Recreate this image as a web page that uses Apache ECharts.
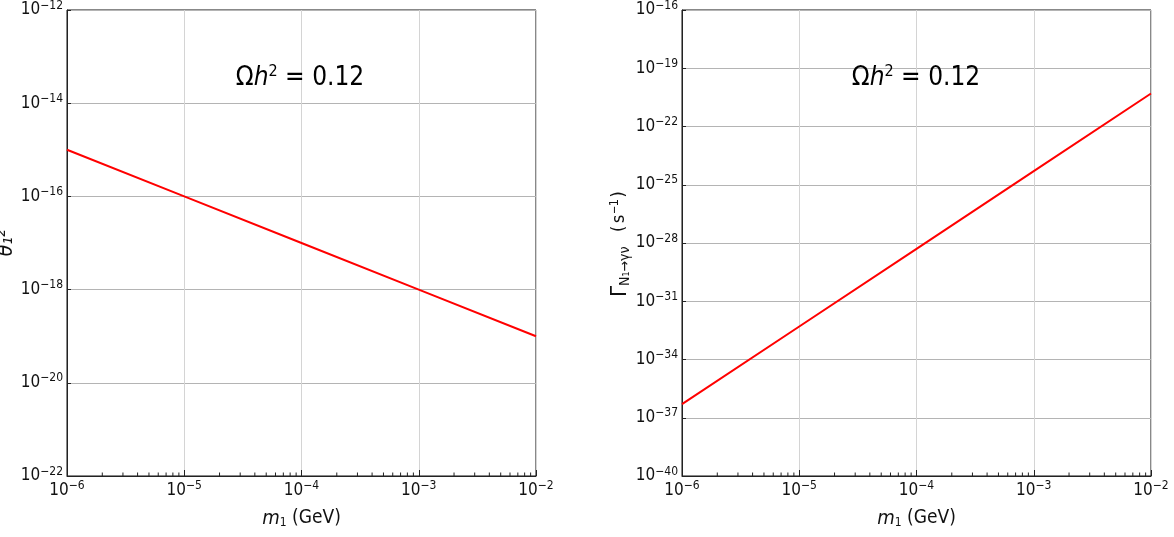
<!DOCTYPE html>
<html>
<head>
<meta charset="utf-8">
<script src="https://cdn.jsdelivr.net/npm/echarts@6/dist/echarts.min.js"></script>
<style>
html,body{margin:0;padding:0;background:#fff;}
#c{width:1174px;height:537px;}
</style>
</head>
<body>
<div id="c"></div>
<script>
// ---- data ----
const masses = [1e-6, 1e-5, 1e-4, 1e-3, 1e-2];                    // m1 (GeV)
const theta2 = [1e-15, 1e-16, 1e-17, 1e-18, 1e-19];                // θ1^2
const gammaRate = [5.0e-37, 5.0e-33, 5.0e-29, 5.0e-25, 5.0e-21];   // Γ (s^-1)
const xRange = [1e-6, 1e-2];
const yLeftRange = [1e-22, 1e-12];
const yRightRange = [1e-40, 1e-16];
const yLeftStep = 2;   // decades between y ticks (left)
const yRightStep = 3;  // decades between y ticks (right)
const titleValue = '0.12';

const FONT = "'DejaVu Sans Condensed','Liberation Sans Narrow','DejaVu Sans',sans-serif";
const L10 = Math.log10;   // axes are drawn on decades (log10 scale)

// minor tick positions (2..9 per decade) — axis decoration
const minorTicks = [];
for (let d = -6; d < -2; d++) for (let k = 2; k <= 9; k++) minorTicks.push(k * Math.pow(10, d));

function expText(e) { e = Math.round(e); return '{b|10}{e|' + (e < 0 ? '\u2212' + (-e) : e) + '}'; }
const labelRich = {
  b: {fontSize: 17, fontFamily: FONT, color: '#111'},
  e: {fontSize: 12, fontFamily: FONT, color: '#111', padding: [0, 0, 9, 0]}
};

function xAxisDef(idx) {
  return {
    type: 'value', gridIndex: idx, min: L10(xRange[0]), max: L10(xRange[1]), interval: 1,
    name: '{i|m}{s|1}{n| (GeV)}', nameLocation: 'middle', nameGap: 32,
    nameTextStyle: {rich: {
      i: {fontSize: 20, fontStyle: 'italic', fontFamily: FONT, color: '#111'},
      s: {fontSize: 12, fontFamily: FONT, color: '#111', padding: [9, 0, 0, 0]},
      n: {fontSize: 19, fontFamily: FONT, color: '#111'}
    }},
    axisLine: {show: true, onZero: false, lineStyle: {color: '#222', width: 1}},
    axisTick: {show: true, inside: true, length: 6, lineStyle: {color: '#222'}},
    axisLabel: {formatter: expText, rich: labelRich, margin: 4, showMinLabel: true, showMaxLabel: true},
    splitLine: {show: true, lineStyle: {color: '#d4d4d4', width: 1}}
  };
}
function yAxisDef(idx, range, step, name, rich, gap) {
  return {
    type: 'value', gridIndex: idx, min: L10(range[0]), max: L10(range[1]), interval: step,
    name: name, nameLocation: 'middle', nameGap: gap,
    nameTextStyle: {rich: rich},
    axisLine: {show: true, onZero: false, lineStyle: {color: '#222', width: 1}},
    axisTick: {show: true, inside: true, length: 4, lineStyle: {color: '#222'}},
    axisLabel: {formatter: expText, rich: labelRich, margin: 4, showMinLabel: true, showMaxLabel: true},
    splitLine: {show: true, lineStyle: {color: '#b4b4b4', width: 1}}
  };
}
function minorSeries(idx, yMin) {
  return {
    type: 'custom', xAxisIndex: idx, yAxisIndex: idx, silent: true, z: 5, clip: false,
    data: minorTicks.map(v => [L10(v), L10(yMin)]),
    renderItem: function (params, api) {
      const p = api.coord([api.value(0), api.value(1)]);
      return {type: 'line', shape: {x1: p[0], y1: p[1], x2: p[0], y2: p[1] - 3.5},
              style: {stroke: '#222', lineWidth: 1}};
    }
  };
}
const titleRich = {
  o: {fontSize: 26, fontFamily: FONT, color: '#000'},
  h: {fontSize: 26, fontFamily: FONT, fontStyle: 'italic', color: '#000'},
  s: {fontSize: 16, fontFamily: FONT, color: '#000', padding: [0, 0, 12, 0]},
  t: {fontSize: 26, fontFamily: FONT, color: '#000'}
};
function titleGraphic(x, y) {
  return {type: 'text', x: x, y: y, z: 100,
    style: {text: '{o|\u03A9}{h|h}{s|2}{t| = ' + titleValue + '}', rich: titleRich,
            align: 'center', verticalAlign: 'middle'}};
}
const gridBase = {top: 10, bottom: 61, show: true, borderColor: '#111', borderWidth: 1,
                  containLabel: false, outerBoundsMode: 'none'};

const chart = echarts.init(document.getElementById('c'));
chart.setOption({
  animation: false,
  backgroundColor: '#fff',
  grid: [Object.assign({left: 67, right: 638}, gridBase), Object.assign({left: 682, right: 23}, gridBase)],
  xAxis: [xAxisDef(0), xAxisDef(1)],
  yAxis: [
    yAxisDef(0, yLeftRange, yLeftStep, '{t|\u03B8\u2081\u00B2}', {
      t: {fontSize: 21, fontStyle: 'italic', fontFamily: FONT, color: '#111'}
    }, 27),
    yAxisDef(1, yRightRange, yRightStep, '{g|\u0393}{s|N\u2081\u2192\u03B3\u03BD}{p| (s}{e|\u22121}{p|)}', {
      g: {fontSize: 22, fontFamily: FONT, color: '#111'},
      s: {fontSize: 14, fontFamily: FONT, color: '#111', padding: [10, 2, 0, 0]},
      p: {fontSize: 17, fontFamily: "'DejaVu Sans Mono',monospace", color: '#111'},
      e: {fontSize: 12, fontFamily: "'DejaVu Sans Mono',monospace", color: '#111', padding: [0, 0, 10, 0]}
    }, 30)
  ],
  series: [
    {type: 'line', xAxisIndex: 0, yAxisIndex: 0, data: masses.map((m, i) => [L10(m), L10(theta2[i])]),
     showSymbol: false, symbol: 'none', lineStyle: {color: '#ff0000', width: 2}, z: 10},
    {type: 'line', xAxisIndex: 1, yAxisIndex: 1, data: masses.map((m, i) => [L10(m), L10(gammaRate[i])]),
     showSymbol: false, symbol: 'none', lineStyle: {color: '#ff0000', width: 2}, z: 10},
    minorSeries(0, yLeftRange[0]),
    minorSeries(1, yRightRange[0])
  ],
  graphic: [titleGraphic(300, 78), titleGraphic(916, 78)]
});
</script>
</body>
</html>
